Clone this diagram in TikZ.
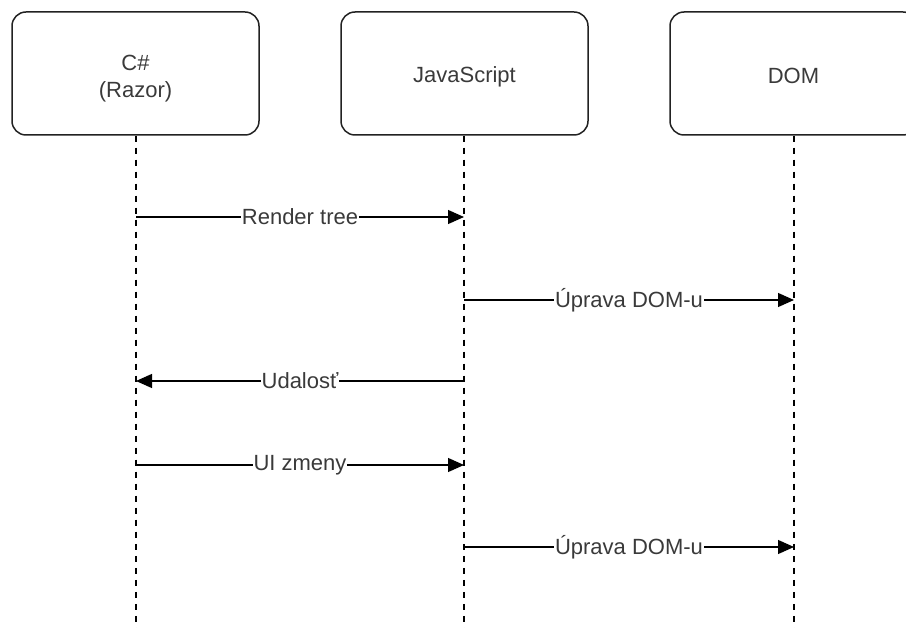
\documentclass[tikz,border=0pt]{standalone}
\usepackage{fontspec}
\setmainfont{Liberation Sans}
\usetikzlibrary{arrows.meta}
\definecolor{txt}{HTML}{3A3A3A}
\definecolor{edge}{HTML}{222222}
\newcommand{\lowerby}[2]{\raisebox{-#1}[\height][\depth]{#2}}
\tikzset{
  actor/.style={draw=edge, line width=1.5pt, rounded corners=14pt, minimum width=247pt, minimum height=123pt, inner sep=0pt, align=center, text=txt, font=\fontsize{22}{27}\selectfont},
  lifeline/.style={draw=black, line width=1.2pt, dash pattern=on 6pt off 6pt},
  msg/.style={draw=black, line width=1.2pt, -{Triangle[length=16pt,width=14pt]}},
  msglabel/.style={fill=white, text=txt, inner sep=1pt, font=\fontsize{22}{26}\selectfont}
}
\begin{document}
\begin{tikzpicture}[x=1pt,y=-1pt]
\useasboundingbox (0,0) rectangle (906,628);
\node[actor] (cs) at (135.5,73.5) {\lowerby{5pt}{\begin{tabular}{@{}c@{}}C\#\\(Razor)\end{tabular}}};
\node[actor] (js) at (464.5,73.5) {\lowerby{3pt}{JavaScript}};
\node[actor] (dom) at (793.5,73.5) {\lowerby{2pt}{DOM}};
% lifeline ends
\coordinate (csEnd) at (136,630);
\coordinate (jsEnd) at (464,630);
\coordinate (domEnd) at (794,630);
\draw[lifeline] (cs.south -| csEnd) -- (csEnd);
\draw[lifeline] (js.south -| jsEnd) -- (jsEnd);
\draw[lifeline] (dom.south -| domEnd) -- (domEnd);
% message points
\foreach \n/\y in {1/217,2/300,3/381,4/465,5/547}{
  \coordinate (c\n) at (136,\y);
  \coordinate (j\n) at (464,\y);
  \coordinate (d\n) at (794,\y);
}
\draw[msg] (c1) -- node[msglabel] (l1) {Render tree} (j1);
\draw[msg] (j2) -- node[msglabel] (l2) {Úprava DOM-u} (d2);
\draw[msg] (j3) -- node[msglabel] (l3) {Udalosť} (c3);
\draw[msg] (c4) -- node[msglabel] (l4) {UI zmeny} (j4);
\draw[msg] (j5) -- node[msglabel] (l5) {Úprava DOM-u} (d5);
\end{tikzpicture}
\end{document}
